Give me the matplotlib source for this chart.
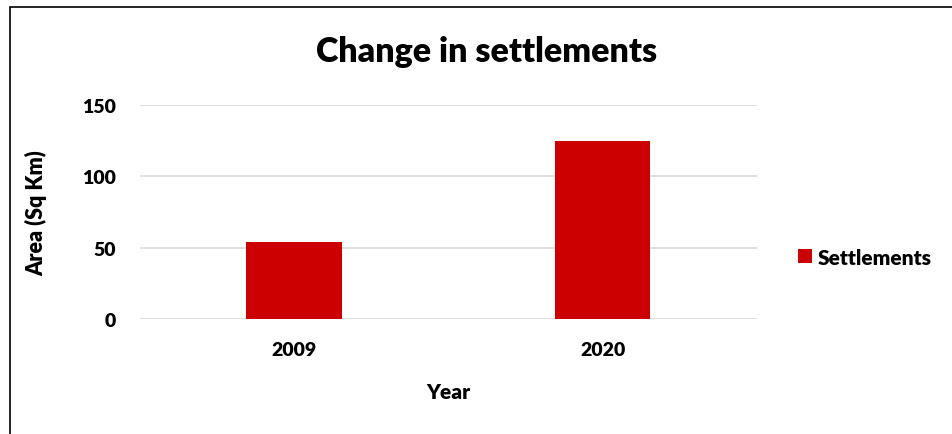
import numpy as np
import matplotlib.pyplot as plt
from matplotlib.patches import Rectangle

years = ['2009', '2020']
settlements = [54, 125]
yticks = [0, 50, 100, 150]

plt.rcParams['font.family'] = ['Lato', 'DejaVu Sans']
plt.rcParams['font.weight'] = 'heavy'

fig = plt.figure(figsize=(9.52, 4.35), dpi=100)
ax = fig.add_axes([0.147, 0.264, 0.648, 0.492])

x = np.arange(len(years))
ax.bar(x, settlements, width=0.31, color='#CC0000', label='Settlements', zorder=3)

ax.set_xlim(-0.5, len(years) - 0.5)
ax.set_ylim(0, 150)
ax.set_yticks(yticks)
ax.set_xticks(x)
ax.set_xticklabels(years)
ax.grid(axis='y', color='#d9d9d9', linewidth=1.2, zorder=0)
ax.tick_params(axis='both', length=0, labelsize=14)
ax.tick_params(axis='y', pad=17)
ax.tick_params(axis='x', pad=16)
for s in ax.spines.values():
    s.set_visible(False)
for lbl in ax.get_xticklabels() + ax.get_yticklabels():
    lbl.set_fontweight('heavy')

fig.text(487 / 952, 1 - 52 / 435, 'Change in settlements', fontsize=24.5,
         fontweight='heavy', ha='center', va='center')
ax.set_xlabel('Year', fontsize=15, fontweight='heavy', labelpad=17)
ax.set_ylabel('Area (Sq Km)', fontsize=15.5, fontweight='heavy', labelpad=25)

ax.legend(loc='center left', bbox_to_anchor=(1.04, 0.29), frameon=False,
          prop={'weight': 'heavy', 'size': 15}, handlelength=0.65,
          handleheight=0.65, handletextpad=0.3, borderaxespad=0.4)

fig.patches.append(Rectangle((10 / 952, -0.1), 1.2, 1 - 8 / 435 + 0.1,
                             transform=fig.transFigure, fill=False,
                             edgecolor='black', linewidth=1.2))

fig.savefig('out.png', dpi=100)
